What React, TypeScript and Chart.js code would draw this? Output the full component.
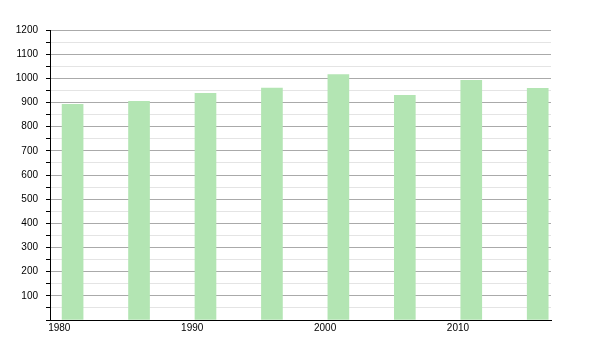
import React, { useEffect, useRef } from "react";
import { Chart, registerables } from "chart.js";

Chart.register(...registerables);

const years = [1981, 1986, 1991, 1996, 2001, 2006, 2011, 2016];
const population = [892, 905, 938, 960, 1016, 930, 992, 959];
const xTicks = [1980, 1990, 2000, 2010];
const yMin = 0;
const yMax = 1200;

export default function App() {
  const ref = useRef<HTMLCanvasElement | null>(null);

  useEffect(() => {
    if (!ref.current) return;
    const chart = new Chart(ref.current, {
      type: "bar",
      data: {
        datasets: [
          {
            data: years.map((y, i) => ({ x: y, y: population[i] })),
            backgroundColor: "#b3e5b3",
            borderWidth: 0,
            barThickness: 21,
          },
        ],
      },
      options: {
        animation: false,
        responsive: false,
        maintainAspectRatio: false,
        layout: { padding: { left: 0, right: 49, top: 30, bottom: 0 } },
        plugins: { legend: { display: false }, tooltip: { enabled: false } },
        scales: {
          x: {
            type: "linear",
            min: 1979.3,
            max: 2017,
            offset: false,
            afterBuildTicks: (scale: any) => {
              scale.ticks = xTicks.map((v) => ({ value: v }));
            },
            afterFit: (scale: any) => {
              scale.height = 30;
            },
            grid: { display: false, tickLength: 0 },
            border: { display: true, color: "#000", width: 1 },
            ticks: {
              color: "#000",
              padding: 2,
              maxRotation: 0,
              autoSkip: false,
              font: { family: "'Liberation Sans', Arial, sans-serif", size: 10 },
              callback: (v: any) => String(v),
            },
          },
          y: {
            min: yMin,
            max: yMax,
            afterBuildTicks: (scale: any) => {
              const t = [];
              for (let v = yMin; v <= yMax; v += 50) t.push({ value: v });
              scale.ticks = t;
            },
            afterFit: (scale: any) => {
              scale.width = 50;
            },
            grid: {
              color: (ctx: any) =>
                ctx.tick && ctx.tick.value % 100 === 0 ? "#aaaaaa" : "#e4e4e4",
              tickColor: "#000",
              tickLength: 4,
              lineWidth: 1,
            },
            border: { display: true, color: "#000", width: 1 },
            ticks: {
              color: "#000",
              padding: 8,
              autoSkip: false,
              font: { family: "'Liberation Sans', Arial, sans-serif", size: 10 },
              callback: (v: any) => (v % 100 === 0 && v > 0 ? String(v) : ""),
            },
          },
        },
      },
    });
    return () => chart.destroy();
  }, []);

  return (
    <div style={{ position: "fixed", left: 0, top: 0, width: 600, height: 350, background: "#fff" }}>
      <canvas ref={ref} width={600} height={350} style={{ width: 600, height: 350 }} />
    </div>
  );
}
